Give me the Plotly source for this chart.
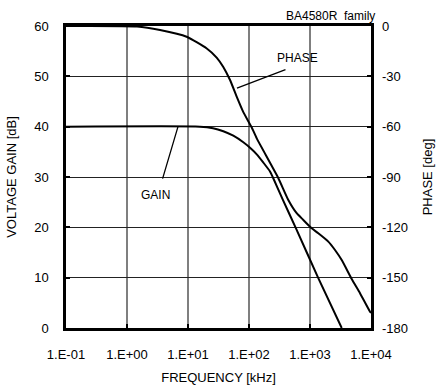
import plotly.graph_objects as go

# Open-loop response (frequency in kHz)
gain_freq = [0.1, 15.7, 25.7, 37.9, 55.3, 80.7, 104, 134, 171, 221, 247, 361, 589, 1368, 3311]
gain_db = [40, 40, 39.7, 39.1, 38.2, 36.9, 35.8, 34.5, 32.9, 31.1, 29.9, 25.4, 19.8, 9.9, 0]

phase_freq = [0.1, 1.46, 3.48, 9.5, 20.3, 29.5, 37.9, 48.9, 62.8, 80.7, 111, 134, 299, 441,
              605, 776, 1067, 1368, 1995, 2570, 3311, 4831, 6607, 9638, 10000]
phase_deg = [0, -0.3, -2.4, -6.4, -13.4, -18.8, -24.4, -32.2, -42.1, -51.3, -60.5, -67, -90.3,
             -103.7, -111.6, -115.6, -120.6, -123.5, -128.5, -133.5, -139.5, -150.8, -159.3,
             -170.3, -171]

x_ticks = [0.1, 1, 10, 100, 1000, 10000]
x_labels = ["1.E-01", "1.E+00", "1.E+01", "1.E+02", "1.E+03", "1.E+04"]
gain_ticks = [0, 10, 20, 30, 40, 50, 60]
phase_ticks = [0, -30, -60, -90, -120, -150, -180]
phase_labels = ["0", "-30", "-60", "-90", "-120", "-150", "-180"]

FONT = "Liberation Sans, Arial, sans-serif"

fig = go.Figure()
fig.add_trace(go.Scatter(x=gain_freq, y=gain_db, mode="lines",
                         line=dict(color="black", width=2, shape="spline", smoothing=0.5)))
fig.add_trace(go.Scatter(x=phase_freq, y=phase_deg, mode="lines", yaxis="y2",
                         line=dict(color="black", width=2, shape="spline", smoothing=0.5)))

fig.update_layout(
    width=441, height=385,
    margin=dict(l=66, r=70, t=26, b=57),
    paper_bgcolor="white", plot_bgcolor="white",
    showlegend=False,
    font=dict(family=FONT, size=13, color="black"),
    xaxis=dict(
        type="log", range=[-1, 4], tickvals=x_ticks, ticktext=x_labels,
        showgrid=True, gridcolor="#7f7f7f", gridwidth=1.5,
        showline=True, linecolor="black", linewidth=2.5, mirror=True,
        ticks="inside", ticklen=4, tickcolor="black", tickwidth=2,
        ticklabelstandoff=13, automargin=False,
        title=dict(text="FREQUENCY [kHz]", font=dict(size=13)), zeroline=False,
    ),
    yaxis=dict(
        range=[0, 60], tickvals=gain_ticks,
        showgrid=True, gridcolor="#222", gridwidth=1,
        showline=True, linecolor="black", linewidth=2.5, mirror=True,
        ticks="inside", ticklen=4, tickcolor="black", tickwidth=2,
        ticklabelstandoff=12, automargin=False,
        title=dict(text="VOLTAGE GAIN [dB]", font=dict(size=13)), zeroline=False,
    ),
    yaxis2=dict(
        range=[-180, 0], tickvals=phase_ticks, ticktext=phase_labels,
        overlaying="y", side="right",
        showgrid=False, zeroline=False,
        ticks="inside", ticklen=4, tickcolor="black", tickwidth=2,
        ticklabelstandoff=10, automargin=False,
        title=dict(text="PHASE [deg]", font=dict(size=13)),
    ),
)

fig.add_annotation(x=1, y=1, xref="paper", yref="paper", xanchor="right", yanchor="bottom",
                   yshift=1, xshift=6, text="BA4580R  family", showarrow=False, font=dict(size=12))

# curve labels, with their leader lines drawn as separate arrow-only annotations
fig.add_annotation(x=2.787, y=-19.1, xref="x", yref="y2", text="PHASE", showarrow=False,
                   font=dict(size=12))
fig.add_annotation(x=1.803, y=-37, xref="x", yref="y2", text=" ", font=dict(size=1),
                   showarrow=True, arrowhead=0, arrowwidth=1.3, arrowcolor="black",
                   ax=50, ay=-19)
fig.add_annotation(x=0.459, y=26.4, xref="x", yref="y", text="GAIN", showarrow=False,
                   font=dict(size=12))
fig.add_annotation(x=0.836, y=40, xref="x", yref="y", text=" ", font=dict(size=1),
                   showarrow=True, arrowhead=0, arrowwidth=1.3, arrowcolor="black",
                   ax=-16, ay=54)

# the page's default body margin would push the chart 8px down and right
fig.write_html("out.html", config={"displayModeBar": False},
               post_script="document.body.style.margin = '0';")
